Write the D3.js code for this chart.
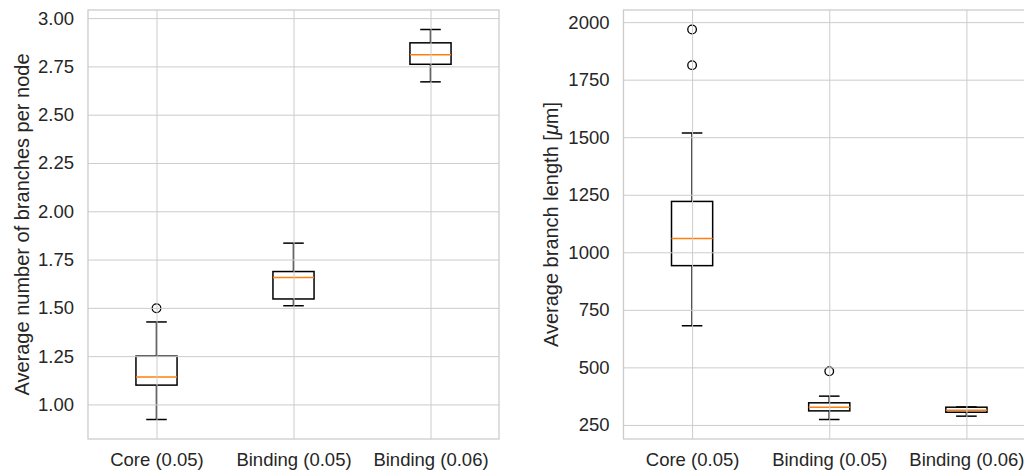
<!DOCTYPE html>
<html>
<head>
<meta charset="utf-8">
<script src="https://cdn.jsdelivr.net/npm/d3@7"></script>
<style>
  html, body { margin: 0; padding: 0; background: #ffffff; }
  svg { display: block; font-family: "Liberation Sans", Arial, Helvetica, sans-serif; }
</style>
</head>
<body>
<svg id="chart" width="1024" height="472"></svg>
<script>
// Category labels shared by both panels
const categories = ["Core (0.05)", "Binding (0.05)", "Binding (0.06)"];

// Branches per node: five-number summaries and fliers
const nodeWhiskerLow  = [0.922, 1.511, 2.670];
const nodeQ1          = [1.100, 1.546, 2.761];
const nodeMedian      = [1.142, 1.657, 2.810];
const nodeQ3          = [1.250, 1.688, 2.872];
const nodeWhiskerHigh = [1.427, 1.835, 2.941];
const nodeOutliers    = [[1.498], [], []];
const nodeTicks       = [1.00, 1.25, 1.50, 1.75, 2.00, 2.25, 2.50, 2.75, 3.00];

// Branch length (µm): five-number summaries and fliers
const lengthWhiskerLow  = [681, 273.5, 288];
const lengthQ1          = [942, 311, 305];
const lengthMedian      = [1060, 327, 314];
const lengthQ3          = [1221, 346, 327];
const lengthWhiskerHigh = [1518, 375, 328];
const lengthOutliers    = [[1968, 1813], [483], []];
const lengthTicks       = [250, 500, 750, 1000, 1250, 1500, 1750, 2000];

const svg = d3.select("#chart");
const textColor = "#262626";
const gridColor = "#cccccc";
const tickFont = "18.5px";
const titleFont = "20px";

function drawPanel(opts) {
  const { left, right, top, bottom, stats, outliers, ticks, fmt, yLabel, labelX } = opts;
  const g = svg.append("g");

  // Positions 1..n with half a unit of padding, as in a box plot
  const x = d3.scaleLinear().domain([0.5, categories.length + 0.5]).range([left, right]);

  const allVals = stats.low.concat(stats.high, outliers.flat());
  const lo = d3.min(allVals), hi = d3.max(allVals);
  const pad = (hi - lo) * 0.05;
  const y = d3.scaleLinear().domain([lo - pad, hi + pad]).range([bottom, top]);

  // clip region for the plot area
  const clipId = "clip" + Math.round(left);
  g.append("clipPath").attr("id", clipId)
    .append("rect").attr("x", left).attr("y", top).attr("width", right - left).attr("height", bottom - top);

  const plot = g.append("g").attr("clip-path", `url(#${clipId})`);

  // horizontal grid
  const yAxis = d3.axisLeft(y).tickValues(ticks).tickSize(-(right - left)).tickFormat(fmt).tickPadding(14);
  const yg = g.append("g").attr("transform", `translate(${left},0)`).call(yAxis);
  yg.select(".domain").remove();
  yg.selectAll(".tick line").attr("stroke", gridColor).attr("stroke-width", 1);
  yg.selectAll(".tick text").attr("fill", textColor).style("font-size", tickFont)
    .style("font-family", "'Liberation Sans', Arial, sans-serif");

  // vertical grid + category labels
  const xAxis = d3.axisBottom(x).tickValues(d3.range(1, categories.length + 1))
    .tickSize(-(bottom - top)).tickFormat((d) => categories[d - 1]).tickPadding(14);
  const xg = g.append("g").attr("transform", `translate(0,${bottom})`).call(xAxis);
  xg.select(".domain").remove();
  xg.selectAll(".tick line").attr("stroke", gridColor).attr("stroke-width", 1);
  xg.selectAll(".tick text").attr("fill", textColor).style("font-size", tickFont)
    .style("font-family", "'Liberation Sans', Arial, sans-serif");

  // axes frame
  g.append("rect").attr("x", left).attr("y", top).attr("width", right - left).attr("height", bottom - top)
    .attr("fill", "none").attr("stroke", gridColor).attr("stroke-width", 1.3);

  const boxHalf = (x(1.15) - x(1));
  const capHalf = (x(1.075) - x(1));

  categories.forEach((c, i) => {
    const cx = x(i + 1);
    const b = plot.append("g");
    // whiskers
    b.append("line").attr("x1", cx).attr("x2", cx).attr("y1", y(stats.q1[i])).attr("y2", y(stats.low[i]))
      .attr("stroke", "#000").attr("stroke-width", 1.5);
    b.append("line").attr("x1", cx).attr("x2", cx).attr("y1", y(stats.q3[i])).attr("y2", y(stats.high[i]))
      .attr("stroke", "#000").attr("stroke-width", 1.5);
    // caps
    [stats.low[i], stats.high[i]].forEach((v) => {
      b.append("line").attr("x1", cx - capHalf).attr("x2", cx + capHalf).attr("y1", y(v)).attr("y2", y(v))
        .attr("stroke", "#000").attr("stroke-width", 1.5);
    });
    // box
    b.append("rect").attr("x", cx - boxHalf).attr("width", 2 * boxHalf)
      .attr("y", y(stats.q3[i])).attr("height", y(stats.q1[i]) - y(stats.q3[i]))
      .attr("fill", "none").attr("stroke", "#000").attr("stroke-width", 1.5);
    // median
    b.append("line").attr("x1", cx - boxHalf).attr("x2", cx + boxHalf)
      .attr("y1", y(stats.med[i])).attr("y2", y(stats.med[i]))
      .attr("stroke", "#ff7f0e").attr("stroke-width", 1.5);
    // fliers
    outliers[i].forEach((v) => {
      b.append("circle").attr("cx", cx).attr("cy", y(v)).attr("r", 4.3)
        .attr("fill", "none").attr("stroke", "#000").attr("stroke-width", 1.3);
    });
  });

  // y-axis title
  const t = g.append("text")
    .attr("transform", `translate(${labelX},${(top + bottom) / 2}) rotate(-90)`)
    .attr("text-anchor", "middle").attr("dominant-baseline", "central")
    .attr("fill", textColor).style("font-size", titleFont);
  yLabel.forEach((part) => {
    const ts = t.append("tspan").text(part.text);
    if (part.italic) ts.style("font-style", "italic");
  });
}

drawPanel({
  left: 88, right: 499, top: 10, bottom: 439,
  stats: { low: nodeWhiskerLow, q1: nodeQ1, med: nodeMedian, q3: nodeQ3, high: nodeWhiskerHigh },
  outliers: nodeOutliers, ticks: nodeTicks, fmt: d3.format(".2f"),
  yLabel: [{ text: "Average number of branches per node" }],
  labelX: 22
});

drawPanel({
  left: 623.5, right: 1035, top: 10, bottom: 439,
  stats: { low: lengthWhiskerLow, q1: lengthQ1, med: lengthMedian, q3: lengthQ3, high: lengthWhiskerHigh },
  outliers: lengthOutliers, ticks: lengthTicks, fmt: d3.format("d"),
  yLabel: [{ text: "Average branch length [" }, { text: "μ", italic: true }, { text: "m]" }],
  labelX: 551
});
</script>
</body>
</html>
